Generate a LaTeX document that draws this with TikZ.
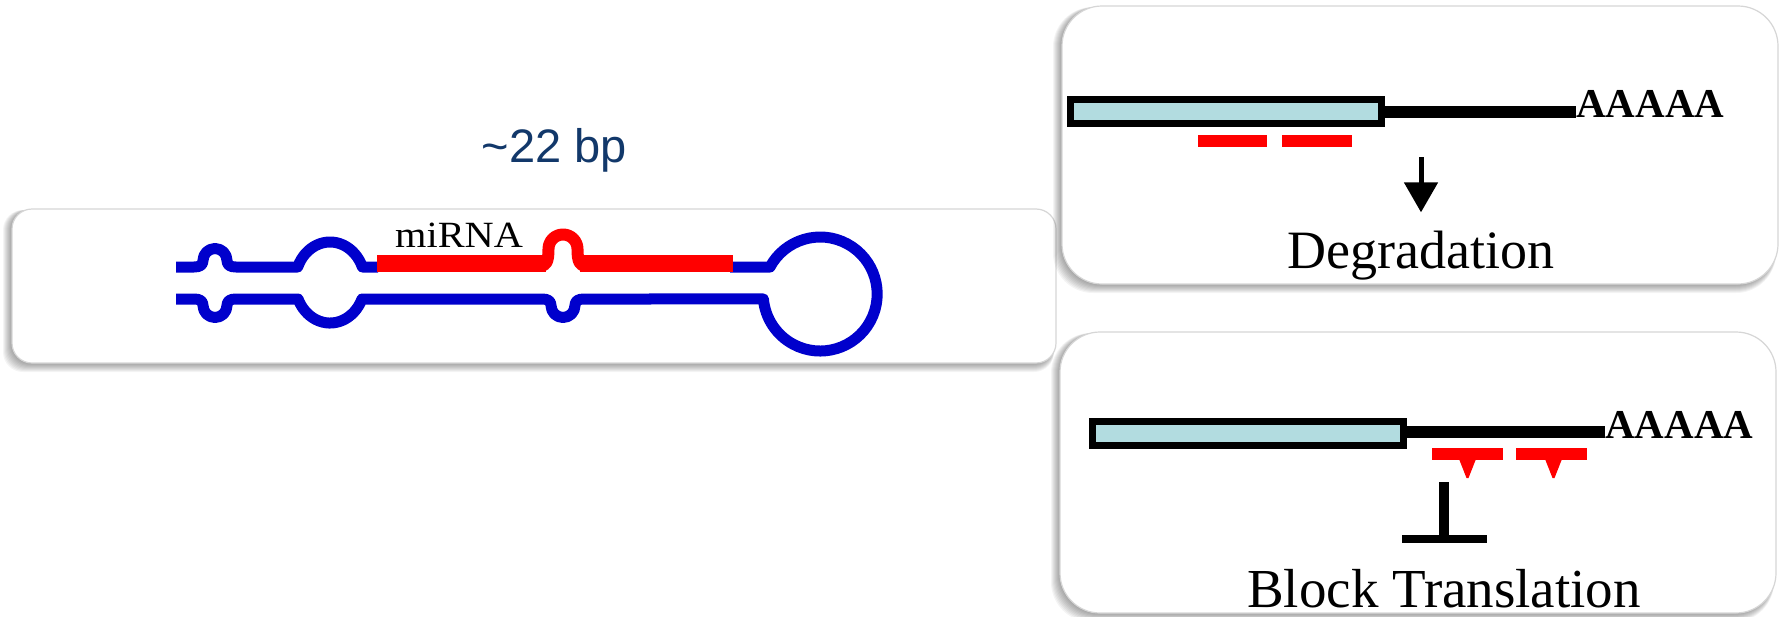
\documentclass[tikz,border=0pt]{standalone}
\usepackage{fontspec}
\setmainfont{Liberation Serif}
\setsansfont{Liberation Sans}
\usetikzlibrary{arrows.meta,calc}

\definecolor{stemblue}{RGB}{0,0,204}
\definecolor{mirred}{RGB}{255,0,0}
\definecolor{cdsfill}{RGB}{178,220,224}
\definecolor{labelnavy}{RGB}{18,56,106}
\definecolor{panelline}{RGB}{214,214,214}

% rounded white panel with a soft shadow falling to the lower left
\newcommand\drawpanel[5]{%
  \foreach \k in {1,...,9}{%
    \fill[black, opacity=0.045, rounded corners=#5pt] (#1-\k,#2+1) rectangle (#3-2,#4+\k);
  }%
  \draw[draw=panelline, line width=1.2pt, fill=white, rounded corners=#5pt] (#1,#2) rectangle (#3,#4);
}

\tikzset{
  strand/.style={draw=stemblue, line width=11pt, line join=round},
  mirstrand/.style={draw=mirred, line width=17pt, line join=round},
  mirdome/.style={draw=mirred, line width=12pt, line join=round},
  mirbar/.style={draw=mirred, line width=12pt},
  cds/.style={draw=black, fill=cdsfill, line width=7pt, minimum width=311pt,
              minimum height=24pt, inner sep=0pt},
  tail/.style={draw=black, line width=12pt},
  polya/.style={font=\bfseries\fontsize{41}{44}\selectfont, anchor=base west, inner sep=0pt},
  caption/.style={font=\fontsize{54}{58}\selectfont, anchor=base, inner sep=0pt},
  degarrow/.style={draw=black, line width=5pt,
                   -{Triangle[width=33pt,length=30pt]}},
  blockstem/.style={draw=black, line width=10pt},
  blockbar/.style={draw=black, line width=8pt},
}

\begin{document}
\begin{tikzpicture}[x=1pt,y=-1pt]
\useasboundingbox (0,0) rectangle (1781,616);
\fill[white] (0,0) rectangle (1781,616);

% panels
\drawpanel{12}{209}{1056}{363}{20}
\drawpanel{1062}{6}{1778}{284}{40}
\drawpanel{1060}{332}{1776}{613}{40}

% length label
\node[font=\sffamily\fontsize{47}{50}\selectfont, text=labelnavy, anchor=base, inner sep=0pt]
  (len) at (554.5,162) {\textasciitilde 22 bp};

% precursor hairpin: upper strand
\draw[strand] (176,267) -- (194,267)
  .. controls (200,267) and (203,265) .. (203,260.5)
  arc[start angle=180, end angle=360, radius=12]
  .. controls (227,265) and (230,267) .. (236,267) -- (297.7,267)
  arc[start angle=202.5, end angle=337.5, x radius=35, y radius=40.5] -- (378,267);
% lower strand with terminal loop
\draw[strand] (730,267) -- (770,267)
  arc[start angle=208.3, end angle=535, radius=57] -- (584,299)
  .. controls (578,299) and (575,301) .. (575,305.5)
  arc[start angle=0, end angle=180, radius=12]
  .. controls (551,301) and (548,299) .. (542,299) -- (362,299)
  arc[start angle=24, end angle=156, x radius=35, y radius=40.5] -- (236,299)
  .. controls (230,299) and (227,301) .. (227,305.5)
  arc[start angle=0, end angle=180, radius=12]
  .. controls (203,301) and (200,299) .. (194,299) -- (176,299);
% mature miRNA segment with its bulge
\draw[mirstrand] (377,263.5) -- (546,263.5);
\draw[mirstrand] (580,263.5) -- (733,263.5);
\draw[mirdome] (540,266) .. controls (546,266) and (548.5,262) .. (548.5,249)
  arc[start angle=180, end angle=360, radius=14.5]
  .. controls (577.5,262) and (580,266) .. (586,266);
\node[font=\fontsize{37}{40}\selectfont, anchor=base west, inner sep=0pt]
  (mirlabel) at (395,247) {\scalebox{1.09}[1]{miRNA}};

% perfect pairing: degradation
\draw[tail] (1381,111.5) -- (1576,111.5);
\node[cds] (cds1) at (1226,111.5) {};
\node[polya] (pa1) at (1576,117) {AAAAA};
\draw[mirbar] (1198,141) -- (1267,141);
\draw[mirbar] (1282,141) -- (1352,141);
\coordinate (arrtop) at (1421,157);
\node[caption] (deg) at (1421,268) {Degradation};
\draw[degarrow, shorten >=18pt] (arrtop) -- (arrtop |- deg.north);

% imperfect pairing: translational block
\draw[tail] (1403,431.5) -- (1605,431.5);
\node[cds] (cds2) at (1248,433) {};
\node[polya] (pa2) at (1605,438) {AAAAA};
\draw[mirbar] (1432,454) -- (1503,454);
\fill[mirred] (1459,459) -- (1476,459) -- (1468.5,478) -- (1466.5,478) -- cycle;
\draw[mirbar] (1516,454) -- (1587,454);
\fill[mirred] (1545,459) -- (1562,459) -- (1554.5,478) -- (1552.5,478) -- cycle;
\coordinate (blk) at (1444,482);
\coordinate (blkfoot) at (1444,539);
\draw[blockstem] (blk) -- (blkfoot);
\draw[blockbar] ([xshift=-42pt]blkfoot) -- ([xshift=43pt]blkfoot);
\node[caption, font=\fontsize{55}{60}\selectfont] (blocktext) at (1444,607) {Block Translation};
\end{tikzpicture}
\end{document}
